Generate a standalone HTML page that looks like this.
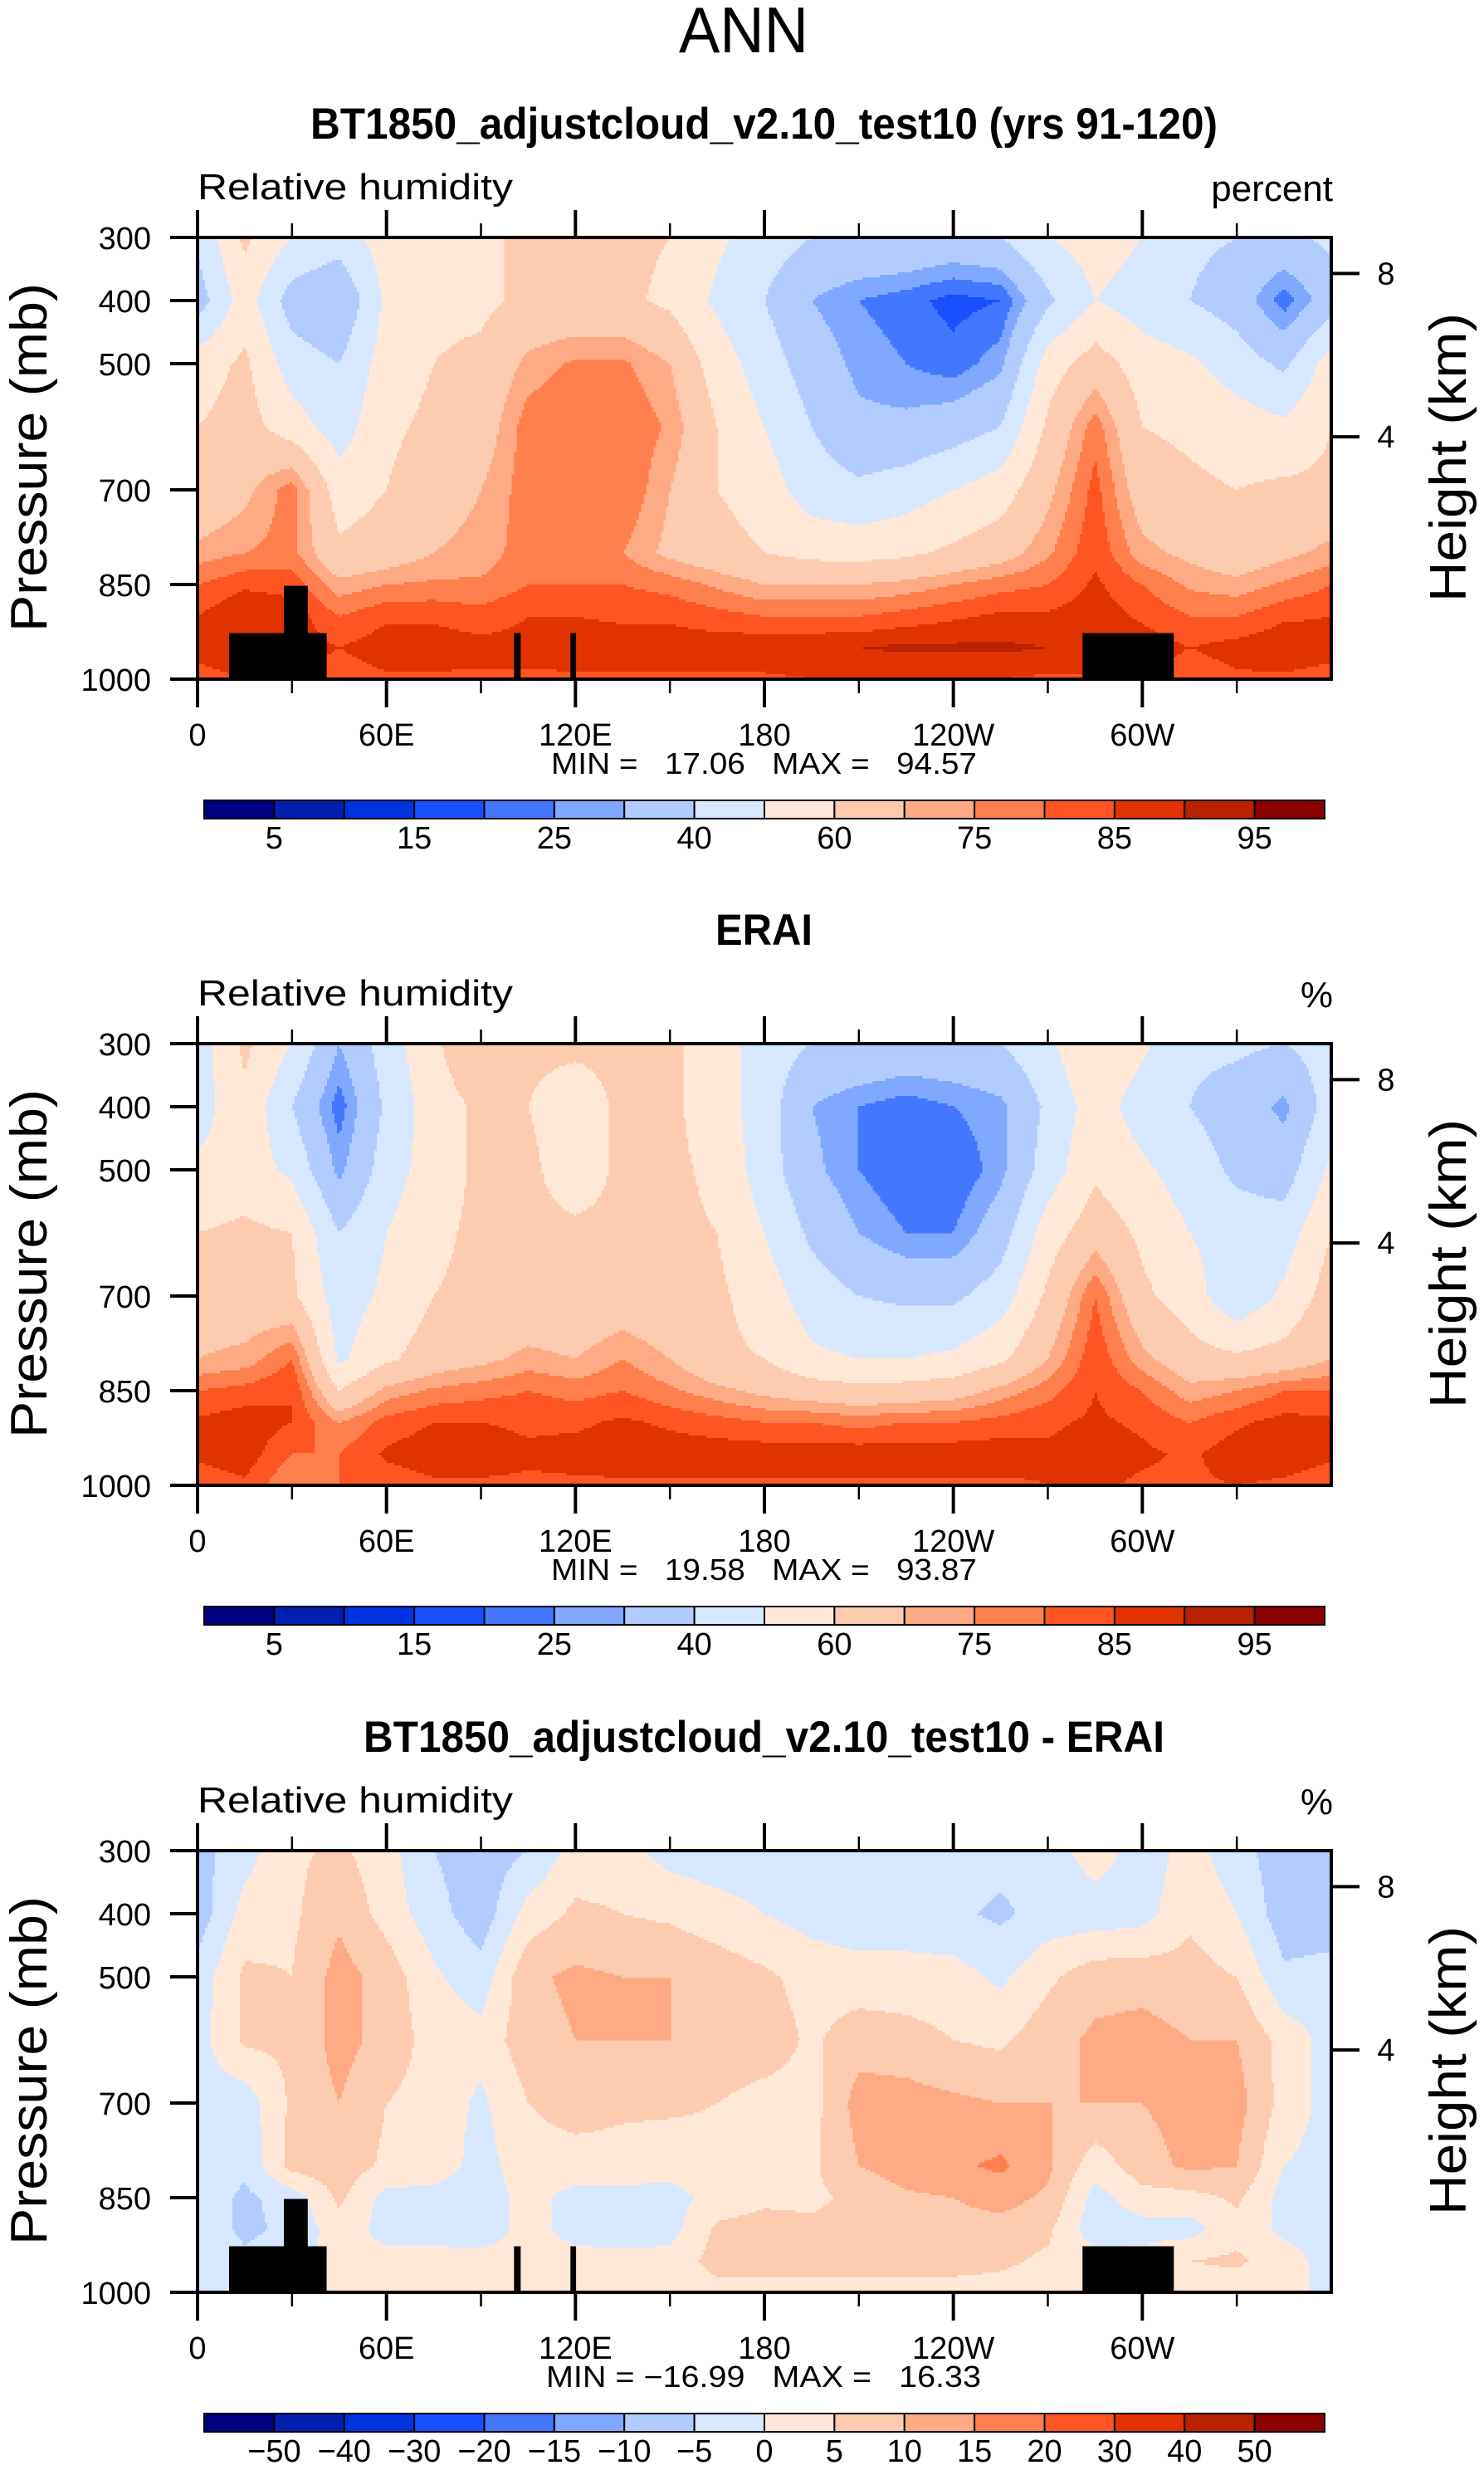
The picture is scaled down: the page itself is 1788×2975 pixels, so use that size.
<!DOCTYPE html>
<html><head><meta charset="utf-8"><style>
html,body{margin:0;padding:0;background:#fff;}
svg{display:block;}
text{font-family:"Liberation Sans",sans-serif;fill:#000;}
.pre{white-space:pre;}
</style></head><body>
<svg id="fig" width="1788" height="2975" viewBox="0 0 1788 2975" xmlns="http://www.w3.org/2000/svg">
<rect x="0" y="0" width="1788" height="2975" fill="#fff"/>
<text x="818" y="63" font-size="78" textLength="156" lengthAdjust="spacingAndGlyphs">ANN</text>
</svg>
<script>
// ---- data ----
const lons = [0,15,30,45,60,75,90,105,120,135,150,165,180,195,210,225,240,255,270,285,300,315,330,345,360];
const pressures = [300,400,500,600,700,800,850,900,950,1000];
const modelRH = [
[42,35,55,60,62,72,80,85,88,82],[62,55,62,64,68,75,84,90,90,85],[50,35,45,55,78,77,83,88,88,85],[45,30,40,45,55,62,72,80,85,82],
[55,52,55,58,60,65,75,84,88,84],[58,58,60,62,66,70,76,84,88,84],[58,58,62,65,70,72,76,82,87,84],[62,62,72,78,78,78,80,85,87,84],
[62,62,76,80,78,76,80,85,88,84],[62,62,76,80,80,75,80,84,88,84],[60,58,70,74,70,68,78,84,88,84],[52,48,55,60,60,64,74,82,88,84],
[45,40,45,50,55,60,70,80,89,84],[40,30,35,40,45,57,70,80,89,85],[40,25,28,32,42,56,70,80,90,85],[40,22,25,32,45,58,72,82,91,85],
[38,18,22,35,50,62,75,84,91,85],[40,20,28,40,55,66,78,86,91,85],[50,38,55,62,68,74,80,86,90,84],[55,50,65,78,82,84,86,88,90,84],
[50,45,55,60,65,72,80,84,88,84],[42,40,52,58,62,68,74,80,85,82],[40,35,45,55,60,64,72,80,87,84],[38,22,38,52,62,68,76,84,89,84],
[42,35,55,60,62,72,80,85,88,82]];
const eraiRH = [
[45,45,52,60,65,70,80,86,86,82],[62,58,55,62,64,72,82,88,88,84],[50,40,48,60,62,80,85,85,80,75],[30,22,28,40,45,48,60,75,80,80],
[45,42,45,50,52,58,72,82,86,82],[58,55,55,58,60,65,76,85,88,84],[70,62,62,62,62,68,78,85,88,84],[62,60,62,62,62,72,80,84,86,84],
[62,55,55,62,62,70,78,84,87,84],[62,62,62,62,64,75,80,86,88,84],[62,62,62,62,62,70,76,84,88,84],[55,55,58,60,62,62,72,82,88,84],
[45,45,45,50,55,60,68,80,88,84],[40,30,32,38,45,52,65,80,88,84],[40,25,25,30,40,50,63,78,88,84],[38,22,20,25,38,50,64,80,88,84],
[38,25,20,25,38,52,66,80,88,84],[40,28,28,35,45,58,72,82,88,84],[48,42,45,55,62,70,78,84,86,85],[60,55,58,66,80,84,85,86,88,86],
[52,45,52,58,62,72,80,84,86,84],[42,40,45,50,55,64,72,80,84,84],[42,35,38,45,42,62,75,84,88,85],[40,28,35,45,52,64,80,87,88,84],
[45,45,52,60,65,70,80,86,86,82]];
const diffRH = [
[-7,-8,-3,-2,-2,-2,-2,-2,-2,0],[-2,2,6,6,-3,-4,-6,-6,-4,0],[4,4,5,6,6,7,-3,-4,-2,0],[6,9,12,12,10,8,6,3,2,2],
[2,3,8,8,5,4,-2,-2,2,2],[-5,-3,1,3,3,3,-2,-2,2,2],[-8,-8,-3,2,-1,-2,-3,-3,2,2],[-5,2,9,8,5,3,2,2,2,2],
[2,6,11,10,7,3,-2,-2,2,2],[2,5,10,10,6,3,-2,-3,2,2],[-2,4,10,10,6,2,-2,-2,2,2],[-3,2,8,9,5,3,2,6,7,3],
[-3,0,6,8,3,3,4,7,7,3],[-2,-2,3,4,3,4,4,6,7,3],[-2,-3,2,8,12,10,6,7,7,3],[-2,-3,2,7,12,13,9,8,7,3],
[-2,-4,2,5,11,14,10,8,7,3],[-3,-6,-1,4,10,16,12,8,6,3],[-3,-3,4,8,10,11,9,6,4,2],[3,-3,8,11,10,2,-2,-3,2,2],
[-3,-2,8,12,10,8,3,-2,2,2],[2,4,7,10,12,11,3,-2,5,2],[-3,0,5,10,12,10,6,3,6,2],[-8,-8,-4,3,3,0,-2,-1,2,0],
[-7,-8,-3,-2,-2,-2,-2,-2,-2,0]];
const rhLevels = [5,10,15,20,25,30,40,50,60,70,75,80,85,90,95];
const diffLevels = [-50,-40,-30,-20,-15,-10,-5,0,5,10,15,20,30,40,50];
const rhLabels = ["5","15","25","40","60","75","85","95"];
const diffLabels = ["−50","−40","−30","−20","−15","−10","−5","0","5","10","15","20","30","40","50"];
const palette = ["#000080","#0020b0","#0033e0","#1a4fff","#4477ff","#80a8ff","#b3ccff","#d6e7ff","#ffe8d8","#fdcbb0","#fdaa85","#ff7f4f","#ff5522","#e03300","#b82200","#8b0000"];
// land mask boxes: [lonStart, lonEnd, topPressure]
const landLonStart = [10, 27.4, 100.5, 118.4, 281];
const landLonEnd   = [41, 35, 102.6, 120.2, 310];
const landTopP     = [927, 852, 927, 927, 927];
const lonTickVals = [0,60,120,180,240,300];
const lonTickLabels = ["0","60E","120E","180","120W","60W"];
const pTickVals = [300,400,500,700,850,1000];
const kmTickVals = [8,4];
const kmTickP = [357,616];

const panels = [
 {oy:0, title:"BT1850_adjustcloud_v2.10_test10 (yrs 91-120)", tx:374, tw:1093, data:modelRH, levels:rhLevels, labels:rhLabels, step:2, unit:"percent", mm:"MIN =   17.06   MAX =   94.57", mmx:664, mmw:513, land:true},
 {oy:971, title:"ERAI", tx:862, tw:117, data:eraiRH, levels:rhLevels, labels:rhLabels, step:2, unit:"%", mm:"MIN =   19.58   MAX =   93.87", mmx:664, mmw:513, land:false},
 {oy:1943, title:"BT1850_adjustcloud_v2.10_test10 - ERAI", tx:438, tw:965, data:diffRH, levels:diffLevels, labels:diffLabels, step:1, unit:"%", mm:"MIN = −16.99   MAX =   16.33", mmx:658, mmw:524, land:true}
];

const NS = "http://www.w3.org/2000/svg";
const svg = document.getElementById('fig');
function mk(tag, attrs, parent){ const e=document.createElementNS(NS,tag); for(const k in attrs) e.setAttribute(k,attrs[k]); (parent||svg).appendChild(e); return e; }
function txt(s, attrs, parent){ const e=mk('text',attrs,parent); e.textContent=s; return e; }

function interp(grid, lon, p){
  let i = Math.min(Math.floor(lon/15), lons.length-2); let fx = (lon-lons[i])/15;
  let j=0; while(j<pressures.length-2 && p>pressures[j+1]) j++;
  let fy = (p-pressures[j])/(pressures[j+1]-pressures[j]);
  const a=grid[i][j], b=grid[i+1][j], c=grid[i][j+1], d=grid[i+1][j+1];
  return (a*(1-fx)+b*fx)*(1-fy)+(c*(1-fx)+d*fx)*fy;
}
function cls(v, levels){ let k=0; while(k<levels.length && v>=levels[k]) k++; return k; }

const X0=238, X1=1604, W=X1-X0;
panels.forEach((P, pi)=>{
  const Y0=286+P.oy, Y1=818+P.oy, H=Y1-Y0;
  const xs = lon => X0 + lon/360*W;
  const ys = p => Y0 + (p-300)/700*H;
  const g = mk('g',{});
  
  
  const t = txt(P.title,{x:P.tx,y:167+P.oy,'font-size':53,'font-weight':'bold',textLength:P.tw,lengthAdjust:'spacingAndGlyphs'},g);
  
  
  const rh = txt("Relative  humidity",{x:238,y:240+P.oy,'font-size':44,textLength:380,lengthAdjust:'spacingAndGlyphs'},g);
  
  
  const un = txt(P.unit,{x:1606,y:242+P.oy,'font-size':44,'text-anchor':'end'},g);
  
  
  // contour field
  const field = mk('g',{'shape-rendering':'crispEdges'},g);
  
  
  const nx=455, ny=177, dx=W/nx, dy=H/ny;
  for(let r=0;r<ny;r++){
    const p = 300 + (r+0.5)/ny*700;
    let start=0, cur=-1;
    for(let c=0;c<=nx;c++){
      const k = c<nx ? cls(interp(P.data,(c+0.5)/nx*360,p),P.levels) : -2;
      if(k!==cur){
        if(cur>=0){
          const rc = mk('rect',{x:(X0+start*dx).toFixed(2),y:(Y0+r*dy).toFixed(2),width:((c-start)*dx+0.6).toFixed(2),height:(dy+0.6).toFixed(2),fill:palette[cur]},field);
          
          
        }
        cur=k; start=c;
      }
    }
  }
  if(P.land){
    for(let i=0;i<landLonStart.length;i++){
      const lr = mk('rect',{x:xs(landLonStart[i]),y:ys(landTopP[i]),width:xs(landLonEnd[i])-xs(landLonStart[i]),height:ys(1000)-ys(landTopP[i]),fill:'#000'},g);
      
      
    }
  }
  // frame
  const fr = mk('rect',{x:X0,y:Y0,width:W,height:H,fill:'none',stroke:'#000','stroke-width':4},g);
  
  
  // lon ticks
  for(let lon=0;lon<=330;lon+=30){
    const major = lon%60===0;
    const x=xs(lon);
    const l1 = mk('line',{x1:x,y1:Y0,x2:x,y2:Y0-(major?33:17),stroke:'#000','stroke-width':major?4:2.5},g);
    
    
    const l2 = mk('line',{x1:x,y1:Y1,x2:x,y2:Y1+(major?34:17),stroke:'#000','stroke-width':major?4:2.5},g);
    
    
  }
  lonTickVals.forEach((lon,i)=>{
    const tl = txt(lonTickLabels[i],{x:xs(lon),y:898+P.oy,'font-size':38,'text-anchor':'middle'},g);
    
    
  });
  pTickVals.forEach(p=>{
    const y=ys(p);
    const tk = mk('line',{x1:X0,y1:y,x2:205,y2:y,stroke:'#000','stroke-width':4},g);
    
    
    const tl = txt(String(p),{x:182,y:y+14,'font-size':38,'text-anchor':'end'},g);
    
    
  });
  kmTickVals.forEach((km,i)=>{
    const y=ys(kmTickP[i]);
    const tk = mk('line',{x1:X1,y1:y,x2:1638,y2:y,stroke:'#000','stroke-width':4},g);
    
    
    const tl = txt(String(km),{x:1670,y:y+13,'font-size':38,'text-anchor':'middle'},g);
    
    
  });
  const cy = 551+P.oy;
  const yt = txt("Pressure  (mb)",{x:0,y:0,'font-size':62,'text-anchor':'middle',textLength:420,lengthAdjust:'spacingAndGlyphs',transform:`translate(56,${cy}) rotate(-90)`},g);
  
  
  const ht = txt("Height  (km)",{x:0,y:0,'font-size':62,'text-anchor':'middle',textLength:348,lengthAdjust:'spacingAndGlyphs',transform:`translate(1766,${cy}) rotate(-90)`},g);
  
  
  const mm = txt(P.mm,{x:P.mmx,y:932+P.oy,'font-size':36,textLength:P.mmw,lengthAdjust:'spacingAndGlyphs','class':'pre'},g);
  
  
  // colorbar
  const CB0=246, CB1=1596, bw=(CB1-CB0)/palette.length, cbY=964+P.oy, cbH=22;
  palette.forEach((col,i)=>{
    const b = mk('rect',{x:CB0+i*bw,y:cbY,width:bw,height:cbH,fill:col,stroke:'#000','stroke-width':2},g);
    
    
  });
  P.labels.forEach((lab,i)=>{
    const bi = P.step===2 ? 1+i*2 : 1+i;
    const cl = txt(lab,{x:CB0+bi*bw,y:1022+P.oy,'font-size':38,'text-anchor':'middle'},g);
    
    
  });
});
</script>
</body></html>
